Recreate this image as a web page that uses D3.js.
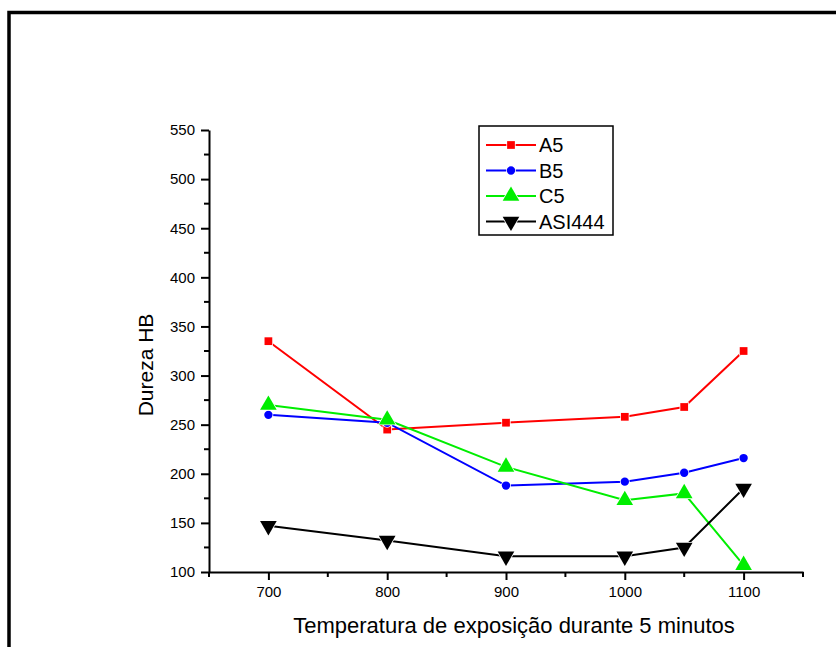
<!DOCTYPE html>
<head>
    <meta charset="utf-8">
    <title>Dureza HB</title>
    <script src="https://d3js.org/d3.v7.min.js"></script>
    <style>
        body { margin: 0; background: #fff; }
        svg { display: block; font-family: "Liberation Sans", Arial, sans-serif; }
    </style>
</head>
<body>
    <div id="container"></div>
    <script>
        //------------------------DATA------------------------//
        var temps = [700, 800, 900, 1000, 1050, 1100];
        var seriesNames = ["A5", "B5", "C5", "ASI444"];
        var a5 = [335, 245, 252, 258, 268, 325];
        var b5 = [260, 252, 188, 192, 201, 216];
        var c5 = [270, 255, 207, 173, 180, 107];
        var asi444 = [147, 132, 116, 116, 125, 185];
        var xTicks = [700, 800, 900, 1000, 1100];
        var yTicks = [100, 150, 200, 250, 300, 350, 400, 450, 500, 550];

        var W = 836, H = 647;
        var margin = { top: 130, right: 33, bottom: 75, left: 209 };
        var width = W - margin.left - margin.right,
            height = H - margin.top - margin.bottom;

        var x = d3.scaleLinear().domain([650, 1150]).range([0, width]);
        var y = d3.scaleLinear().domain([100, 550]).range([height, 0]);

        var colors = ["#ff0000", "#0000ff", "#00ee00", "#000000"];
        var symbols = [d3.symbolSquare, d3.symbolCircle, d3.symbolTriangle, d3.symbolTriangle];
        var sizes = [60, 55, 120, 120];
        var rotations = [0, 0, 0, 180];
        var values = [a5, b5, c5, asi444];

        var svg = d3.select("#container").append("svg").attr("width", W).attr("height", H);

        // outer frame
        svg.append("rect")
            .attr("x", 9).attr("y", 12.5)
            .attr("width", W + 10).attr("height", H + 10)
            .attr("fill", "none").attr("stroke", "#000").attr("stroke-width", 3.5);

        var g = svg.append("g").attr("transform", "translate(" + margin.left + "," + margin.top + ")");

        //------------------------AXES------------------------//
        var xMinor = d3.range(650, 1151, 50).filter(function (d) { return xTicks.indexOf(d) < 0; });
        var yMinor = d3.range(125, 550, 50);

        var xAxis = g.append("g").attr("transform", "translate(0," + height + ")")
            .call(d3.axisBottom(x).tickValues(xTicks).tickFormat(d3.format("d"))
                .tickSize(8).tickPadding(6).tickSizeOuter(0));
        xAxis.append("g").selectAll("line").data(xMinor).enter().append("line")
            .attr("x1", x).attr("x2", x).attr("y1", 0).attr("y2", 5)
            .attr("stroke", "#000").attr("stroke-width", 2);

        var yAxis = g.append("g")
            .call(d3.axisLeft(y).tickValues(yTicks).tickFormat(d3.format("d"))
                .tickSize(8).tickPadding(6).tickSizeOuter(0));
        yAxis.append("g").selectAll("line").data(yMinor).enter().append("line")
            .attr("y1", y).attr("y2", y).attr("x1", 0).attr("x2", -5)
            .attr("stroke", "#000").attr("stroke-width", 2);

        g.selectAll(".domain").attr("stroke", "#000").attr("stroke-width", 2);
        g.selectAll(".tick line").attr("stroke", "#000").attr("stroke-width", 2);
        xAxis.attr("font-size", 15).attr("font-family", "Liberation Sans, Arial, sans-serif");
        yAxis.attr("font-size", 15).attr("font-family", "Liberation Sans, Arial, sans-serif");
        g.selectAll(".tick text").attr("fill", "#000");

        // axis titles
        svg.append("text")
            .attr("x", 514).attr("y", 633)
            .attr("text-anchor", "middle").attr("font-size", 22)
            .text("Temperatura de exposição durante 5 minutos");
        svg.append("text")
            .attr("transform", "translate(153,365) rotate(-90)")
            .attr("text-anchor", "middle").attr("font-size", 21)
            .text("Dureza HB");

        //------------------------SERIES------------------------//
        var line = d3.line()
            .x(function (d) { return x(d.t); })
            .y(function (d) { return y(d.v); });

        values.forEach(function (vals, i) {
            var pts = temps.map(function (t, j) { return { t: t, v: vals[j] }; });
            g.append("path").datum(pts)
                .attr("d", line)
                .attr("fill", "none")
                .attr("stroke", colors[i])
                .attr("stroke-width", 2);
        });

        values.forEach(function (vals, i) {
            var pts = temps.map(function (t, j) { return { t: t, v: vals[j] }; });
            g.selectAll(".m" + i).data(pts).enter().append("path")
                .attr("class", "m" + i)
                .attr("d", d3.symbol().type(symbols[i]).size(sizes[i]))
                .attr("transform", function (d) {
                    return "translate(" + x(d.t) + "," + y(d.v) + ") rotate(" + rotations[i] + ")";
                })
                .attr("fill", colors[i])
                .attr("stroke", "#fff")
                .attr("stroke-width", 1.5)
                .attr("paint-order", "stroke");
        });

        //------------------------LEGEND------------------------//
        var lg = svg.append("g").attr("transform", "translate(479,126)");
        lg.append("rect").attr("width", 134).attr("height", 109)
            .attr("fill", "#fff").attr("stroke", "#000").attr("stroke-width", 1.5);
        seriesNames.forEach(function (name, i) {
            var yy = 19 + i * 25.5;
            lg.append("line").attr("x1", 7).attr("x2", 57).attr("y1", yy).attr("y2", yy)
                .attr("stroke", colors[i]).attr("stroke-width", 2);
            lg.append("path")
                .attr("d", d3.symbol().type(symbols[i]).size(sizes[i]))
                .attr("transform", "translate(32," + yy + ") rotate(" + rotations[i] + ")")
                .attr("fill", colors[i]).attr("stroke", "#fff").attr("stroke-width", 1.5)
                .attr("paint-order", "stroke");
            lg.append("text").attr("x", 60).attr("y", yy + 7)
                .attr("font-size", 20).text(name);
        });
    </script>
</body>
